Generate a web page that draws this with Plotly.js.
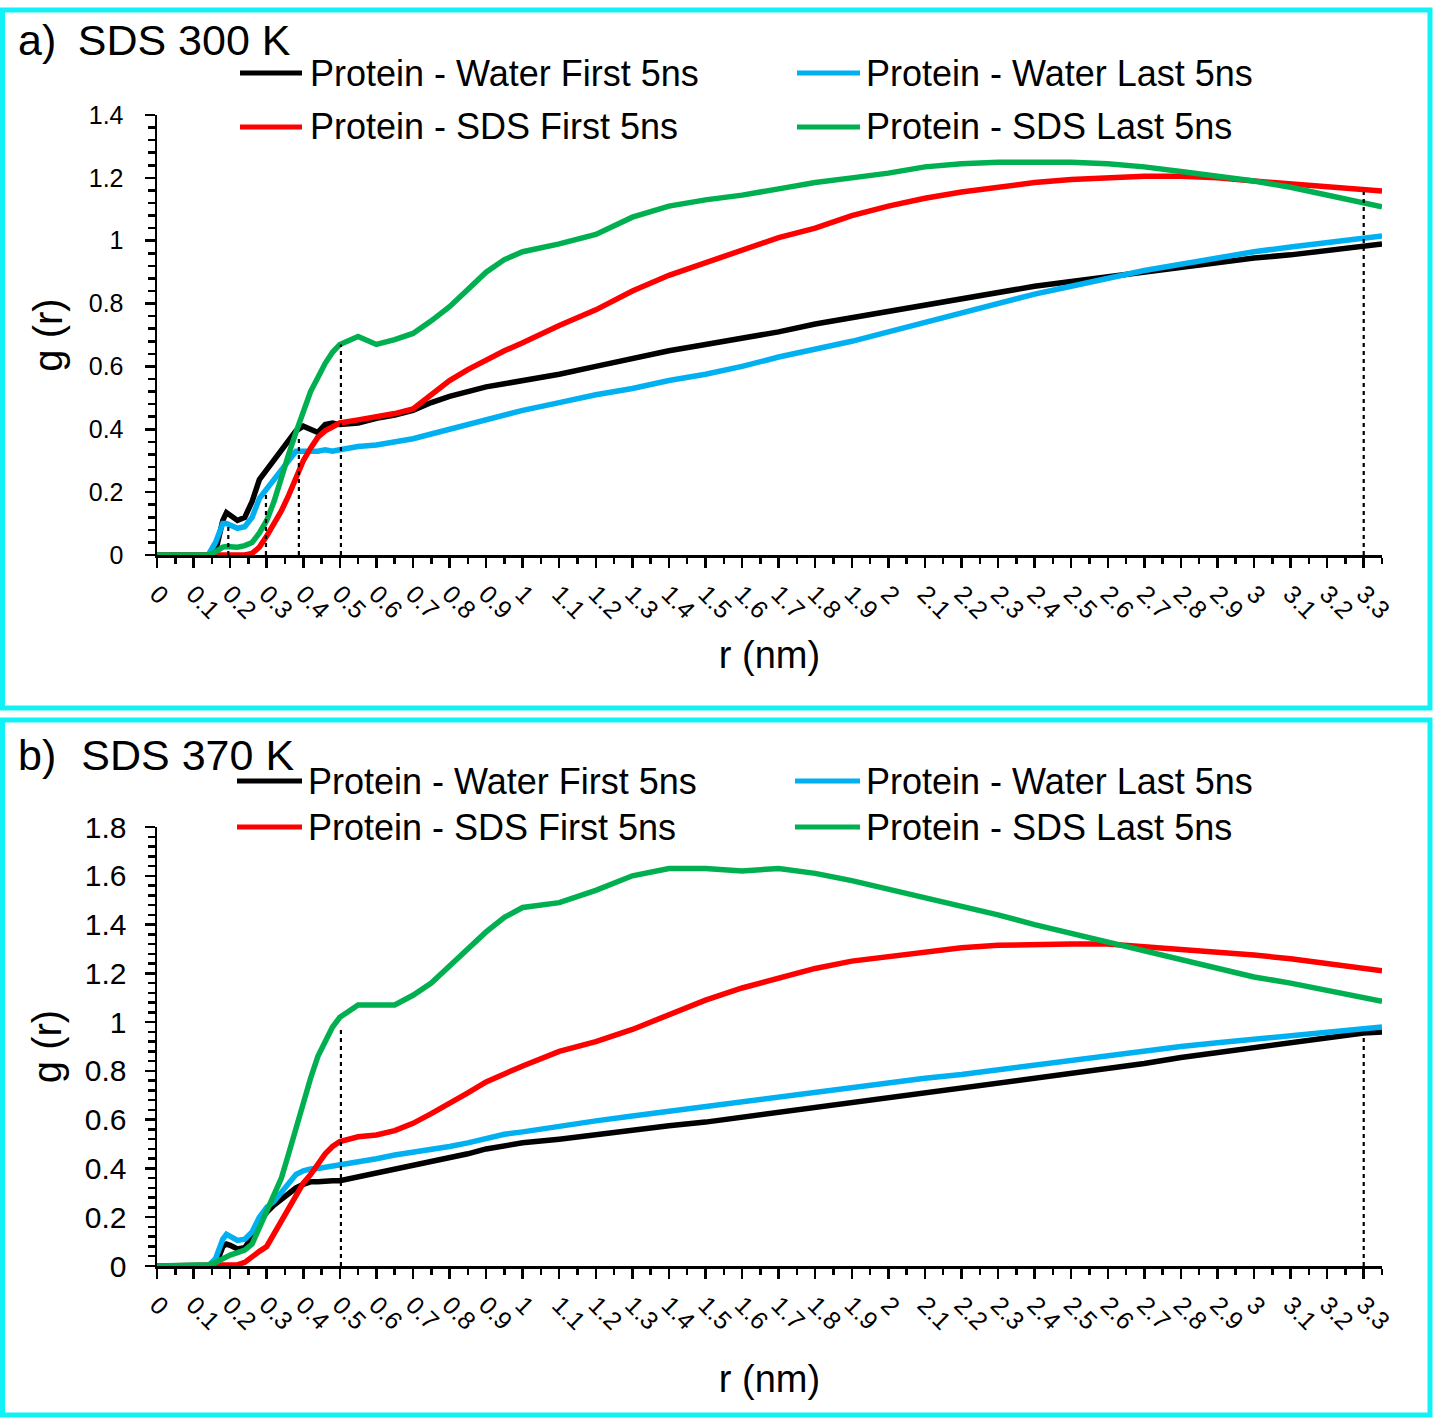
<!DOCTYPE html>
<html><head><meta charset="utf-8">
<script src="https://cdn.plot.ly/plotly-3.0.1.min.js"></script>
<style>html,body{margin:0;padding:0;background:#fff}#chart{width:1435px;height:1418px}</style>
</head><body><div id="chart"></div>
<script>
const W = 1435, H = 1418;
const FONT = 'Liberation Sans, Arial, sans-serif';

// ---------- data ----------
const seriesNames = ['Protein - Water First 5ns', 'Protein - Water Last 5ns', 'Protein - SDS First 5ns', 'Protein - SDS Last 5ns'];
const seriesColors = ['#000000', '#00B0F0', '#FF0000', '#00B050'];

const rGrid = [0, 0.14, 0.16, 0.18, 0.19, 0.2, 0.22, 0.24, 0.26, 0.28, 0.3, 0.32, 0.34, 0.36, 0.38, 0.4, 0.42, 0.44, 0.46, 0.48,
  0.5, 0.55, 0.6, 0.65, 0.7, 0.75, 0.8, 0.85, 0.9, 0.95, 1.0, 1.1, 1.2, 1.3, 1.4, 1.5, 1.6, 1.7, 1.8, 1.9,
  2.0, 2.1, 2.2, 2.3, 2.4, 2.5, 2.6, 2.7, 2.8, 2.9, 3.0, 3.1, 3.2, 3.3, 3.35];

// panel a) SDS 300 K
const waterFirstA = [0, 0, 0.01, 0.11, 0.135, 0.125, 0.11, 0.12, 0.17, 0.24, 0.27, 0.3, 0.33, 0.365, 0.395, 0.41, 0.4, 0.39, 0.415, 0.42,
  0.415, 0.42, 0.435, 0.445, 0.46, 0.485, 0.505, 0.52, 0.535, 0.545, 0.555, 0.575, 0.6, 0.625, 0.65, 0.67, 0.69, 0.71, 0.735, 0.755,
  0.775, 0.795, 0.815, 0.835, 0.855, 0.87, 0.885, 0.9, 0.915, 0.93, 0.945, 0.955, 0.97, 0.985, 0.99];
const waterLastA = [0, 0, 0.04, 0.1, 0.1, 0.095, 0.085, 0.09, 0.12, 0.18, 0.21, 0.24, 0.27, 0.3, 0.33, 0.33, 0.33, 0.33, 0.335, 0.33,
  0.335, 0.345, 0.35, 0.36, 0.37, 0.385, 0.4, 0.415, 0.43, 0.445, 0.46, 0.485, 0.51, 0.53, 0.555, 0.575, 0.6, 0.63, 0.655, 0.68,
  0.71, 0.74, 0.77, 0.8, 0.83, 0.855, 0.88, 0.905, 0.925, 0.945, 0.965, 0.98, 0.995, 1.01, 1.015];
const sdsFirstA = [0, 0, 0, 0, 0, 0, 0, 0, 0.005, 0.025, 0.06, 0.1, 0.14, 0.19, 0.25, 0.3, 0.34, 0.375, 0.395, 0.41,
  0.42, 0.43, 0.44, 0.45, 0.465, 0.51, 0.555, 0.59, 0.62, 0.65, 0.675, 0.73, 0.78, 0.84, 0.89, 0.93, 0.97, 1.01, 1.04, 1.08,
  1.11, 1.135, 1.155, 1.17, 1.185, 1.195, 1.2, 1.205, 1.205, 1.2, 1.19, 1.18, 1.17, 1.16, 1.158];
const sdsLastA = [0, 0, 0.01, 0.025, 0.027, 0.025, 0.025, 0.03, 0.04, 0.07, 0.11, 0.17, 0.25, 0.32, 0.39, 0.46, 0.52, 0.565, 0.61, 0.645,
  0.67, 0.695, 0.67, 0.685, 0.705, 0.745, 0.79, 0.845, 0.9, 0.94, 0.965, 0.99, 1.02, 1.075, 1.11, 1.13, 1.145, 1.165, 1.185, 1.2,
  1.215, 1.235, 1.245, 1.25, 1.25, 1.25, 1.245, 1.235, 1.22, 1.205, 1.19, 1.17, 1.145, 1.12, 1.108];

// panel b) SDS 370 K
const waterFirstB = [0, 0, 0, 0.08, 0.09, 0.085, 0.07, 0.075, 0.12, 0.18, 0.22, 0.25, 0.275, 0.3, 0.32, 0.335, 0.345, 0.345, 0.35, 0.35,
  0.35, 0.365, 0.38, 0.395, 0.41, 0.43, 0.445, 0.46, 0.48, 0.495, 0.505, 0.52, 0.54, 0.555, 0.575, 0.59, 0.61, 0.63, 0.65, 0.665,
  0.685, 0.705, 0.725, 0.745, 0.77, 0.79, 0.81, 0.83, 0.855, 0.875, 0.9, 0.915, 0.935, 0.955, 0.96];
const waterLastB = [0, 0, 0.03, 0.11, 0.13, 0.12, 0.105, 0.11, 0.14, 0.2, 0.24, 0.265, 0.3, 0.34, 0.375, 0.39, 0.398, 0.4, 0.405, 0.408,
  0.412, 0.425, 0.44, 0.455, 0.465, 0.48, 0.49, 0.505, 0.525, 0.54, 0.55, 0.575, 0.595, 0.615, 0.635, 0.655, 0.675, 0.695, 0.71, 0.73,
  0.75, 0.77, 0.785, 0.805, 0.825, 0.845, 0.865, 0.885, 0.9, 0.915, 0.93, 0.945, 0.96, 0.975, 0.98];
const sdsFirstB = [0, 0, 0, 0, 0, 0, 0.005, 0.015, 0.04, 0.06, 0.08, 0.13, 0.19, 0.24, 0.29, 0.34, 0.375, 0.42, 0.46, 0.49,
  0.51, 0.53, 0.537, 0.555, 0.585, 0.625, 0.665, 0.71, 0.755, 0.79, 0.82, 0.88, 0.92, 0.97, 1.03, 1.09, 1.14, 1.18, 1.22, 1.25,
  1.27, 1.29, 1.305, 1.315, 1.32, 1.32, 1.32, 1.31, 1.3, 1.29, 1.275, 1.26, 1.24, 1.22, 1.21];
const sdsLastB = [0, 0.005, 0.015, 0.03, 0.04, 0.045, 0.055, 0.065, 0.09, 0.16, 0.22, 0.29, 0.36, 0.46, 0.57, 0.68, 0.77, 0.86, 0.92, 0.98,
  1.02, 1.07, 1.07, 1.07, 1.11, 1.16, 1.23, 1.3, 1.37, 1.43, 1.47, 1.49, 1.54, 1.6, 1.63, 1.63, 1.62, 1.63, 1.61, 1.58,
  1.545, 1.51, 1.48, 1.44, 1.4, 1.365, 1.33, 1.29, 1.255, 1.22, 1.185, 1.16, 1.13, 1.1, 1.085];

// dashed reference lines (r position, height reached)
const markR_A = [0.195, 0.298, 0.388, 0.503, 3.3];
const markTop_A = [0.09, 0.2, 0.375, 0.67, 1.155];
const markR_B = [0.503, 3.3];
const markTop_B = [0.98, 0.96];

// tick labels
const xTickText = ['0','0.1','0.2','0.3','0.4','0.5','0.6','0.7','0.8','0.9','1','1.1','1.2','1.3','1.4','1.5','1.6','1.7','1.8','1.9',
  '2','2.1','2.2','2.3','2.4','2.5','2.6','2.7','2.8','2.9','3','3.1','3.2','3.3'];
const yTickTextA = ['0','0.2','0.4','0.6','0.8','1','1.2','1.4'];
const yTickTextB = ['0','0.2','0.4','0.6','0.8','1','1.2','1.4','1.6','1.8'];

const panelTitles = ['a)\u2002SDS 300 K', 'b)\u2002\u200aSDS 370 K'];

// ---------- helpers ----------
const fx = p => p / W;
const fy = p => 1 - p / H;

const dataA = [waterFirstA, waterLastA, sdsFirstA, sdsLastA];
const dataB = [waterFirstB, waterLastB, sdsFirstB, sdsLastB];
const traces = [];
[[dataA, 'x', 'y'], [dataB, 'x2', 'y2']].forEach(([set, xa, ya]) => {
  set.forEach((vals, i) => {
    traces.push({x: rGrid, y: vals, xaxis: xa, yaxis: ya, type: 'scatter', mode: 'lines',
      name: seriesNames[i], showlegend: false, line: {color: seriesColors[i], width: 5.5}});
  });
});

function xAxis(domainY, titleStandoff) {
  return {
    domain: [fx(157), fx(1382)], range: [0, 3.35], anchor: domainY,
    tickmode: 'array', tickvals: xTickText.map(Number), ticktext: xTickText, tickangle: 45,
    ticks: 'outside', ticklen: 10, tickwidth: 2.5, tickcolor: '#000',
    minor: {tickmode: 'linear', tick0: 0, dtick: 0.05, ticks: 'outside', ticklen: 6, tickwidth: 2.5, tickcolor: '#000'},
    showline: true, linewidth: 2.5, linecolor: '#000', showgrid: false, zeroline: false,
    tickfont: {family: FONT, size: 25, color: '#000'}, ticklabelstandoff: 2,
    title: {text: 'r (nm)', font: {family: FONT, size: 38, color: '#000'}, standoff: titleStandoff}
  };
}
function yAxis(domain, range, texts, anchor, fsize, lblStandoff, titleStandoff) {
  return {
    domain: domain, range: range, anchor: anchor,
    tickmode: 'array', tickvals: texts.map(Number), ticktext: texts,
    ticks: 'outside', ticklen: 10, tickwidth: 2.5, tickcolor: '#000',
    minor: {tickmode: 'linear', tick0: 0, dtick: 0.04, ticks: 'outside', ticklen: 7, tickwidth: 2.5, tickcolor: '#000'},
    showline: true, linewidth: 2.5, linecolor: '#000', showgrid: false, zeroline: false,
    tickfont: {family: FONT, size: fsize, color: '#000'}, ticklabelstandoff: lblStandoff,
    title: {text: 'g (r)', font: {family: FONT, size: 40, color: '#000'}, standoff: titleStandoff}
  };
}

const shapes = [];
const annotations = [];

// panel borders
[[10, 708], [720, 1415]].forEach(([t, b]) => {
  shapes.push({type: 'rect', xref: 'paper', yref: 'paper', x0: fx(2.5), x1: fx(1430), y0: fy(b), y1: fy(t),
    line: {color: '#10F2F6', width: 5}, fillcolor: 'rgba(0,0,0,0)', layer: 'above'});
});

// dashed markers
markR_A.forEach((r, i) => shapes.push({type: 'line', xref: 'x', yref: 'y', x0: r, x1: r, y0: 0, y1: markTop_A[i],
  line: {color: '#000', width: 2.2, dash: '4px,4px'}}));
markR_B.forEach((r, i) => shapes.push({type: 'line', xref: 'x2', yref: 'y2', x0: r, x1: r, y0: 0, y1: markTop_B[i],
  line: {color: '#000', width: 2.2, dash: '4px,4px'}}));

// legends (manual, two columns)
const legendCfg = [
  {rows: [73, 127], lines: [[240, 302], [797, 860]], textX: [308, 864]},
  {rows: [781, 827], lines: [[237, 302], [795, 860]], textX: [306, 864]}
];
legendCfg.forEach(cfg => {
  seriesNames.forEach((name, i) => {
    const col = i % 2, row = Math.floor(i / 2);
    const y = cfg.rows[row];
    shapes.push({type: 'line', xref: 'paper', yref: 'paper', x0: fx(cfg.lines[col][0]), x1: fx(cfg.lines[col][1]),
      y0: fy(y), y1: fy(y), line: {color: seriesColors[i], width: 5}});
    annotations.push({xref: 'paper', yref: 'paper', x: fx(cfg.textX[col]), y: fy(y), xanchor: 'left', yanchor: 'middle',
      text: name, showarrow: false, font: {family: FONT, size: 36, color: '#000'}});
  });
});

// panel titles
[[16, 40], [16, 755]].forEach(([x, y], i) => {
  annotations.push({xref: 'paper', yref: 'paper', x: fx(x), y: fy(y), xanchor: 'left', yanchor: 'middle',
    text: panelTitles[i], showarrow: false, font: {family: FONT, size: 43, color: '#000'}});
});

const layout = {
  width: W, height: H, margin: {l: 0, r: 0, t: 0, b: 0},
  paper_bgcolor: '#fff', plot_bgcolor: '#fff', showlegend: false,
  xaxis: xAxis('y', 19),
  yaxis: yAxis([fy(555), fy(115)], [0, 1.4], yTickTextA, 'x', 25, 16, 14),
  xaxis2: xAxis('y2', 32),
  yaxis2: yAxis([fy(1266), fy(827)], [0, 1.8], yTickTextB, 'x2', 30, 12, 11),
  shapes: shapes, annotations: annotations
};

Plotly.newPlot('chart', traces, layout, {staticPlot: true, displayModeBar: false});
</script>
</body></html>
